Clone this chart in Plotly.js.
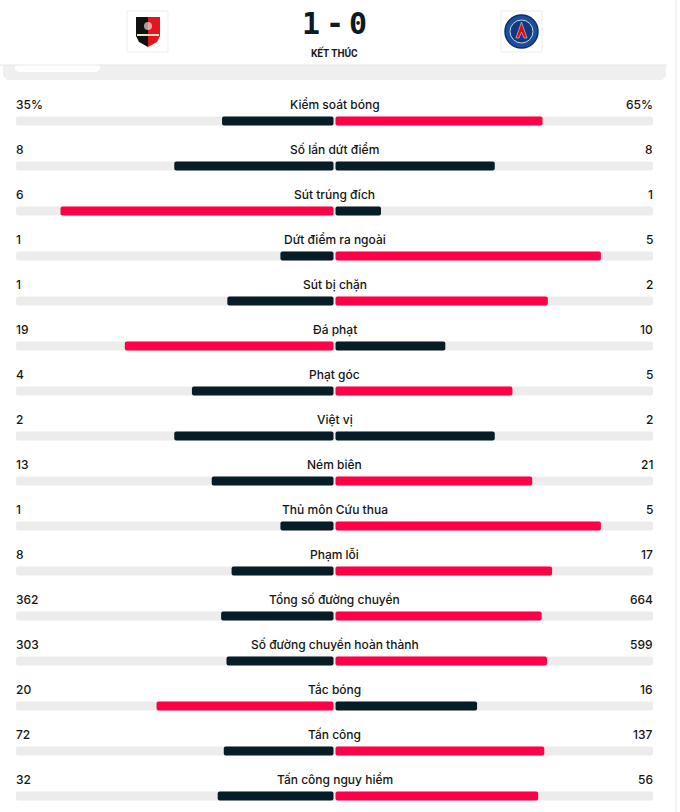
<!DOCTYPE html>
<html>
<head>
<meta charset="utf-8">
<script src="https://cdn.plot.ly/plotly-3.0.1.min.js"></script>
<style>
  html, body { margin: 0; padding: 0; background: #fff; }
  #chart { width: 680px; height: 812px; }
</style>
</head>
<body>
<div id="chart"></div>
<script>
// match stats, Rennes (home) vs PSG (away)
var statNames = ['Kiểm soát bóng', 'Số lần dứt điểm', 'Sút trúng đích', 'Dứt điểm ra ngoài',
  'Sút bị chặn', 'Đá phạt', 'Phạt góc', 'Việt vị', 'Ném biên', 'Thủ môn Cứu thua',
  'Phạm lỗi', 'Tổng số đường chuyền', 'Số đường chuyền hoàn thành', 'Tắc bóng',
  'Tấn công', 'Tấn công nguy hiểm'];
var homeValues = [35, 8, 6, 1, 1, 19, 4, 2, 13, 1, 8, 362, 303, 20, 72, 32];
var awayValues = [65, 8, 1, 5, 2, 10, 5, 2, 21, 5, 17, 664, 599, 16, 137, 56];
var homeLabels = ['35%', '8', '6', '1', '1', '19', '4', '2', '13', '1', '8', '362', '303', '20', '72', '32'];
var awayLabels = ['65%', '8', '1', '5', '2', '10', '5', '2', '21', '5', '17', '664', '599', '16', '137', '56'];

var RED = '#ff0046';
var DARK = '#061c27';
var TRACK = '#ececec';

// pixel -> paper helpers for the header decoration
var L = 16, R = 653, H = 812;
function X(px) { return (px - L) / (R - L); }
function Y(py) { return 1 - py / H; }
function path(pts) {
  return 'M ' + pts.map(function (p) { return X(p[0]) + ',' + Y(p[1]); }).join(' L ') + ' Z';
}

var rows = statNames.map(function (_, i) { return i; });
var gap = 1 / 318.5;
var homeFrac = [], awayFrac = [], homeCol = [], awayCol = [];
for (var i = 0; i < statNames.length; i++) {
  var tot = homeValues[i] + awayValues[i];
  homeFrac.push(-homeValues[i] / tot);
  awayFrac.push(awayValues[i] / tot);
  homeCol.push(homeValues[i] > awayValues[i] ? RED : DARK);
  awayCol.push(awayValues[i] > homeValues[i] ? RED : DARK);
}

var track = {
  type: 'bar', orientation: 'h', y: rows, x: rows.map(function () { return 2; }),
  base: rows.map(function () { return -1; }), width: 0.2,
  marker: { color: TRACK }, hoverinfo: 'skip'
};
var homeBars = {
  type: 'bar', orientation: 'h', y: rows, x: homeFrac,
  base: rows.map(function () { return -gap; }), width: 0.2,
  marker: { color: homeCol }, hoverinfo: 'skip'
};
var awayBars = {
  type: 'bar', orientation: 'h', y: rows, x: awayFrac,
  base: rows.map(function () { return gap; }), width: 0.2,
  marker: { color: awayCol }, hoverinfo: 'skip'
};

var font = { family: 'Inter, Roboto, sans-serif', size: 12, color: '#151515', weight: 500 };
var annotations = [];
for (var j = 0; j < statNames.length; j++) {
  annotations.push({ xref: 'paper', yref: 'y', x: 0.5, y: j, yshift: 17, text: statNames[j],
    showarrow: false, xanchor: 'center', yanchor: 'middle', font: font });
  annotations.push({ xref: 'paper', yref: 'y', x: 0, y: j, yshift: 17, xshift: -2, text: homeLabels[j],
    showarrow: false, xanchor: 'left', yanchor: 'middle', font: font });
  annotations.push({ xref: 'paper', yref: 'y', x: 1, y: j, yshift: 17, xshift: 2, text: awayLabels[j],
    showarrow: false, xanchor: 'right', yanchor: 'middle', font: font });
}

// score + status
var scoreFont = { family: 'DejaVu Sans Mono, monospace', size: 30, color: '#0b1a24' };
[['1', 311], ['-', 335], ['0', 358]].forEach(function (s) {
  annotations.push({ xref: 'paper', yref: 'paper', x: X(s[1]), y: Y(23), text: '<b>' + s[0] + '</b>',
    showarrow: false, xanchor: 'center', yanchor: 'middle', font: scoreFont });
});
annotations.push({ xref: 'paper', yref: 'paper', x: X(334.5), y: Y(52), text: '<b>KẾT THÚC</b>',
  showarrow: false, xanchor: 'center', yanchor: 'middle',
  font: { family: 'Roboto, sans-serif', size: 10, color: '#1a1a1a' } });

var shapes = [
  // right side separator
  { type: 'line', xref: 'paper', yref: 'paper', x0: X(676), x1: X(676), y0: 0, y1: 1,
    line: { color: '#e8e8e8', width: 1 }, layer: 'below' },
  // grey band under header
  { type: 'path', xref: 'paper', yref: 'paper', layer: 'below',
    path: path([[3, 65], [666, 65], [666, 76], [662, 80], [7, 80], [3, 76]]),
    fillcolor: '#efefef', line: { width: 0 } },
  // white pill tab
  { type: 'path', xref: 'paper', yref: 'paper', layer: 'below',
    path: path([[15, 64], [100, 64], [100, 69], [97, 72], [18, 72], [15, 69]]),
    fillcolor: '#ffffff', line: { width: 0 } },
  { type: 'line', xref: 'paper', yref: 'paper', x0: X(0), x1: X(667), y0: Y(65), y1: Y(65),
    line: { color: '#e6e6e6', width: 1 } },
  // logo boxes
  { type: 'rect', xref: 'paper', yref: 'paper', x0: X(127), x1: X(168), y0: Y(11), y1: Y(52),
    fillcolor: '#ffffff', line: { color: '#ededed', width: 1 } },
  { type: 'rect', xref: 'paper', yref: 'paper', x0: X(501), x1: X(542), y0: Y(11), y1: Y(52),
    fillcolor: '#ffffff', line: { color: '#ededed', width: 1 } },
  // Rennes shield
  { type: 'path', xref: 'paper', yref: 'paper',
    path: path([[148, 17], [160, 17], [160, 36], [157, 42], [148, 47]]),
    fillcolor: '#e4151f', line: { width: 0 } },
  { type: 'path', xref: 'paper', yref: 'paper',
    path: path([[136, 17], [148, 17], [148, 47], [139, 42], [136, 36]]),
    fillcolor: '#111111', line: { width: 0 } },
  { type: 'rect', xref: 'paper', yref: 'paper', x0: X(137), x1: X(159), y0: Y(34), y1: Y(36),
    fillcolor: '#f0e2c0', line: { width: 0 } },
  { type: 'circle', xref: 'paper', yref: 'paper', x0: X(144), x1: X(152), y0: Y(22), y1: Y(30),
    fillcolor: 'rgba(255,255,255,0.6)', line: { width: 0 } },
  // PSG badge
  { type: 'circle', xref: 'paper', yref: 'paper', x0: X(505), x1: X(538), y0: Y(15), y1: Y(48),
    fillcolor: '#1a4f9c', line: { color: '#0c2f66', width: 1.5 } },
  { type: 'circle', xref: 'paper', yref: 'paper', x0: X(510), x1: X(533), y0: Y(20), y1: Y(43),
    fillcolor: '#0d3a80', line: { color: '#c9d6ea', width: 1 } },
  { type: 'path', xref: 'paper', yref: 'paper',
    path: path([[521.5, 22], [527, 38], [524, 38], [521.5, 32], [519, 38], [516, 38]]),
    fillcolor: '#e30613', line: { color: '#ffffff', width: 0.5 } }
];

var layout = {
  width: 680, height: 812,
  margin: { l: L, r: 680 - R, t: 0, b: 0 },
  paper_bgcolor: '#ffffff', plot_bgcolor: '#ffffff',
  barmode: 'overlay', barcornerradius: 2,
  showlegend: false,
  xaxis: { range: [-1, 1], visible: false, fixedrange: true },
  yaxis: { range: [(H - 121) / 45, -121 / 45], visible: false, fixedrange: true },
  annotations: annotations,
  shapes: shapes
};

Plotly.newPlot('chart', [track, homeBars, awayBars], layout, { staticPlot: true });
</script>
</body>
</html>
